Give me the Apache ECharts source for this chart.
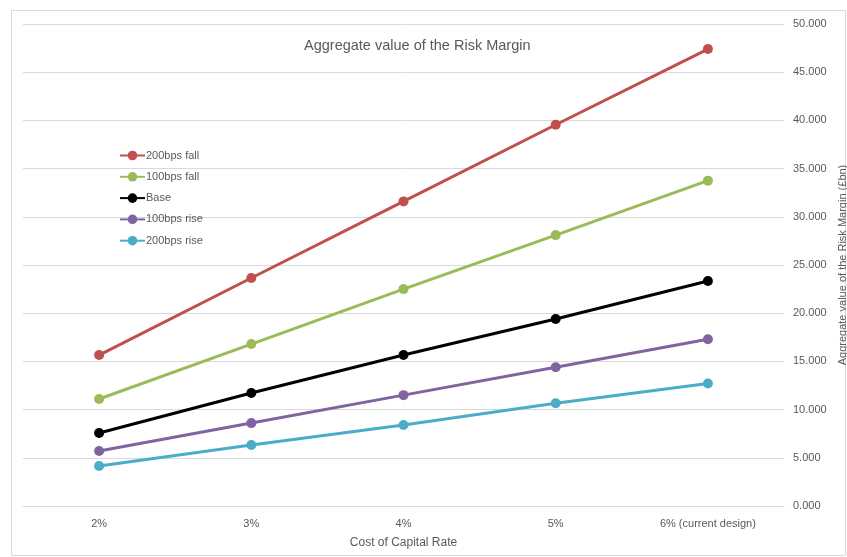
<!DOCTYPE html>
<html>
<head>
<meta charset="utf-8">
<script src="https://cdn.jsdelivr.net/npm/echarts@6/dist/echarts.min.js"></script>
<style>
    html, body { margin: 0; padding: 0; background: #fff; }
    #chart { width: 847px; height: 557px; }
</style>
</head>
<body>
<div id="chart"></div>
<script>
// Risk margin by cost of capital rate, one line per interest rate scenario
var categories = ['2%', '3%', '4%', '5%', '6% (current design)'];

var fall200 = [15.66, 23.65, 31.6, 39.55, 47.4];
var fall100 = [11.1, 16.8, 22.5, 28.1, 33.75];
var base = [7.57, 11.72, 15.66, 19.4, 23.34];
var rise100 = [5.7, 8.6, 11.5, 14.4, 17.3];
var rise200 = [4.15, 6.33, 8.4, 10.65, 12.7];

var seriesNames = ['200bps fall', '100bps fall', 'Base', '100bps rise', '200bps rise'];
var seriesData = [fall200, fall100, base, rise100, rise200];

// Office-style palette
var colors = ['#C0504D', '#9BBB59', '#000000', '#8064A2', '#4BACC6'];

var textColor = '#595959';
var fontFamily = '"Liberation Sans", Arial, sans-serif';

var chart = echarts.init(document.getElementById('chart'));

var option = {
    animation: false,
    textStyle: { fontFamily: fontFamily },
    title: {
        text: 'Aggregate value of the Risk Margin',
        left: 299,
        top: 33,
        textStyle: {
            color: textColor,
            fontSize: 14.5,
            fontWeight: 'normal',
            fontFamily: fontFamily
        }
    },
    graphic: [{
        type: 'rect',
        shape: { x: 11.5, y: 10.5, width: 834, height: 545 },
        style: { fill: 'none', stroke: '#d9d9d9', lineWidth: 1 },
        silent: true
    }],
    legend: {
        orient: 'vertical',
        left: 114,
        top: 145,
        itemGap: 10.3,
        itemWidth: 25,
        itemHeight: 12,
        data: seriesNames,
        textStyle: {
            color: textColor,
            fontSize: 11,
            padding: [0, 0, 0, -4]
        }
    },
    grid: {
        left: 23,
        right: 63,
        top: 24,
        bottom: 51,
        outerBoundsMode: 'none'
    },
    xAxis: {
        type: 'category',
        data: categories,
        boundaryGap: true,
        name: 'Cost of Capital Rate',
        nameLocation: 'middle',
        nameGap: 31,
        nameTextStyle: { color: textColor, fontSize: 12 },
        axisLine: { show: true, lineStyle: { color: '#d9d9d9' } },
        axisTick: { show: false },
        axisLabel: { color: textColor, fontSize: 11, margin: 12 }
    },
    yAxis: {
        type: 'value',
        position: 'right',
        min: 0,
        max: 50,
        interval: 5,
        name: 'Aggregate value of the Risk Margin (£bn)',
        nameLocation: 'middle',
        nameRotate: 90,
        nameGap: 53,
        nameTextStyle: { color: textColor, fontSize: 11 },
        axisLine: { show: false },
        axisTick: { show: false },
        axisLabel: {
            color: textColor,
            fontSize: 11,
            margin: 9,
            formatter: function(v) { return v.toFixed(3); }
        },
        splitLine: { lineStyle: { color: '#d9d9d9', width: 1 } }
    },
    series: seriesNames.map(function(name, i) {
        return {
            name: name,
            type: 'line',
            data: seriesData[i],
            symbol: 'circle',
            symbolSize: 10,
            color: colors[i],
            lineStyle: { width: 3, color: colors[i] },
            itemStyle: { color: colors[i] }
        };
    })
};

chart.setOption(option);

window.addEventListener('resize', function() {
    chart.resize();
});
</script>
</body>
</html>
